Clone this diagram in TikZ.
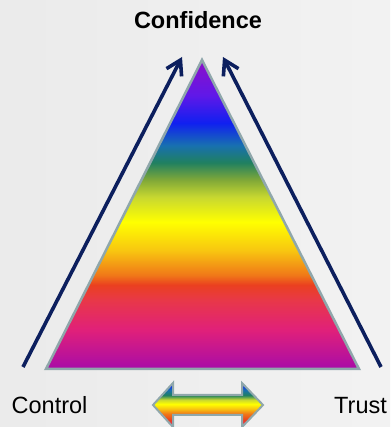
\documentclass[tikz,border=0pt]{standalone}
\usepackage{fontspec}
\setmainfont{Liberation Sans}
\usepackage{xcolor}
\usetikzlibrary{arrows.meta,positioning}

\definecolor{navyline}{HTML}{0C1F5E}
\definecolor{rimgray}{HTML}{8FA7AB}
\definecolor{rbmagenta}{HTML}{A80CA8}
\definecolor{rbpink}{HTML}{E0207A}
\definecolor{rbrose}{HTML}{E83848}
\definecolor{rbred}{HTML}{EA4020}
\definecolor{rborange}{HTML}{F07818}
\definecolor{rbamber}{HTML}{F8C810}
\definecolor{rbyellow}{HTML}{FFFF00}
\definecolor{rblime}{HTML}{C8D830}
\definecolor{rbolive}{HTML}{80A838}
\definecolor{rbgreen}{HTML}{208060}
\definecolor{rbteal}{HTML}{1870B0}
\definecolor{rbblue}{HTML}{1020F0}
\definecolor{rbviolet}{HTML}{6018E8}
\definecolor{rbpurple}{HTML}{8C10C8}

\pgfdeclareverticalshading{pyramidrainbow}{100bp}{
	color(0bp)=(rbmagenta); color(25bp)=(rbmagenta);
	color(31.3bp)=(rbpink); color(36.2bp)=(rbrose);
	color(38.6bp)=(rbred); color(40.2bp)=(rborange);
	color(44.3bp)=(rbamber); color(48.8bp)=(rbyellow);
	color(52.8bp)=(rblime); color(55.6bp)=(rbolive);
	color(58.4bp)=(rbgreen); color(61.2bp)=(rbteal);
	color(64.8bp)=(rbblue); color(69.3bp)=(rbviolet);
	color(75bp)=(rbpurple); color(100bp)=(rbpurple)}

\pgfdeclareverticalshading{swaprainbow}{100bp}{
	color(0bp)=(rbpink); color(25bp)=(rbpink);
	color(33bp)=(rbred); color(40bp)=(rborange);
	color(46bp)=(rbamber); color(51bp)=(rbyellow);
	color(56bp)=(rblime); color(61bp)=(rbgreen);
	color(67bp)=(rbteal); color(73bp)=(rbblue);
	color(75bp)=(rbviolet); color(100bp)=(rbviolet)}

\tikzset{
	sidearrow/.style={-{Straight Barb[length=14pt,width=17pt]}, line width=3.6pt, draw=navyline},
	cornerlabel/.style={font=\fontsize{23.5}{27}\selectfont, inner sep=0pt},
	rim/.style={draw=rimgray, line width=2.5pt}
}

\begin{document}
\begin{tikzpicture}[x=1pt, y=1pt]

	%% -- Canvas with soft grey edges
	\useasboundingbox (0,0) rectangle (390,427);
	\shade[left color=black!8, middle color=white, right color=black!5]
	(0,0) rectangle (390,427);

	%% -- Corners of the pyramid
	\coordinate (apex) at (202,367);
	\coordinate (baseL) at (46,58);
	\coordinate (baseR) at (359,58);

	\shade[shading=pyramidrainbow, rim] (apex) -- (baseL) -- (baseR) -- cycle;

	%% -- Labels
	\node[cornerlabel, font=\fontsize{23.5}{27}\selectfont\bfseries, anchor=base]
	(conf) at (198,398) {Confidence};
	\node[cornerlabel, anchor=base west] (ctrl) at (11.5,13) {Control};
	\node[cornerlabel, anchor=base west] (trust) at (334,13) {Trust};

	%% -- Rising arrows along the sides
	\coordinate (ctrlfoot) at (23,60);
	\coordinate (ctrltip) at (182,370);
	\coordinate (trustfoot) at (381,60);
	\coordinate (trusttip) at (223,370);

	\draw[sidearrow] (ctrlfoot) -- (ctrltip);
	\draw[sidearrow] (trustfoot) -- (trusttip);

	%% -- Two-way arrow between Control and Trust
	\shade[shading=swaprainbow, rim, line width=2pt, line join=miter]
	(153,22) -- (173,44) -- (173,32) -- (242,32) -- (242,44) -- (263,22)
	-- (242,0) -- (242,12) -- (173,12) -- (173,0) -- cycle;

\end{tikzpicture}
\end{document}
